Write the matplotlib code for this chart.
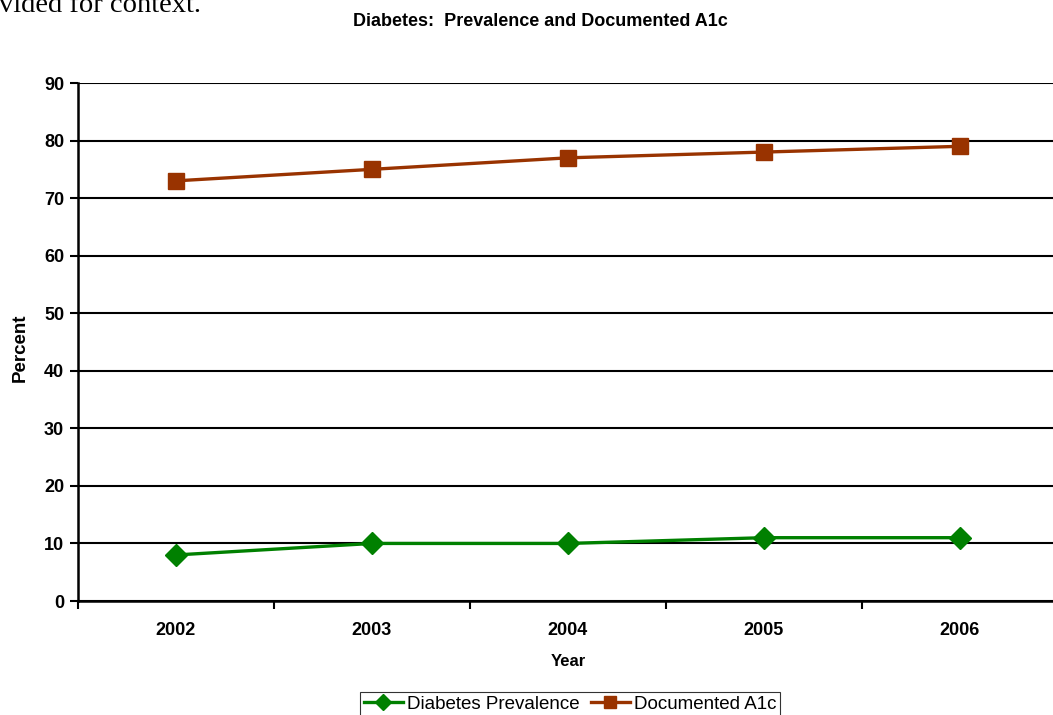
import numpy as np
import matplotlib
matplotlib.use("Agg")
import matplotlib.pyplot as plt
from matplotlib.ticker import FixedLocator

years = ["2002", "2003", "2004", "2005", "2006"]
prevalence = [8, 10, 10, 11, 11]
a1c = [73, 75, 77, 78, 79]

plt.rcParams["font.family"] = ["Liberation Sans", "DejaVu Sans"]

fig = plt.figure(figsize=(10.53, 7.15), dpi=100)
ax = fig.add_axes([78 / 1053, 114 / 715, 980 / 1053, 518 / 715])

x = np.arange(len(years))
ax.plot(x, prevalence, color="#008000", lw=2.4, marker="D", ms=11,
        label="Diabetes Prevalence", zorder=3)
ax.plot(x, a1c, color="#993300", lw=2.4, marker="s", ms=11.5,
        label="Documented A1c", zorder=3)

ax.set_xlim(-0.5, len(years) - 0.5)
ax.set_ylim(0, 90)
ax.set_yticks(np.arange(0, 91, 10))
ax.yaxis.grid(True, color="black", lw=1.5)
ax.set_axisbelow(True)

# category boundaries get tick marks, centres get the labels
ax.xaxis.set_major_locator(FixedLocator(np.arange(-0.5, len(years), 1.0)))
ax.set_xticklabels([])
ax.set_xticks(x, minor=True)
ax.set_xticklabels(years, minor=True, fontsize=13, fontweight="bold")
ax.tick_params(axis="x", which="major", length=6, width=1.5, direction="out")
ax.tick_params(axis="x", which="minor", length=0, pad=15)
ax.tick_params(axis="y", length=6, width=1.5, direction="out", pad=4,
               labelsize=13)
for t in ax.get_yticklabels():
    t.set_fontweight("bold")

for s in ["top", "right"]:
    ax.spines[s].set_visible(False)
for s in ["left", "bottom"]:
    ax.spines[s].set_linewidth(1.8)
    ax.spines[s].set_color("black")

ax.set_ylabel("Percent", fontsize=13.5, fontweight="bold", labelpad=9)
ax.yaxis.set_label_coords(-58 / 980, (601 - 348) / 518)
ax.set_xlabel("Year", fontsize=12, fontweight="bold")
ax.xaxis.set_label_coords(490 / 980, -(661 - 601) / 518)
ax.xaxis.label.set_va("center")
ax.yaxis.label.set_va("center")

fig.text(540 / 1053, 1 - 22 / 715, "Diabetes:  Prevalence and Documented A1c",
         ha="center", va="center", fontsize=13, fontweight="bold")
fig.text(-1 / 1053, 1 - 12 / 715, "vided for context.", ha="left",
         va="baseline", fontsize=20.5, family="Liberation Serif")

leg = fig.legend(loc="center", bbox_to_anchor=(570 / 1053, 1 - 704 / 715),
                 ncol=2, fontsize=13.5, frameon=True, fancybox=False,
                 edgecolor="black", handlelength=2.1, handletextpad=0.2,
                 columnspacing=0.6, borderpad=0.2, markerscale=0.72)
leg.get_frame().set_linewidth(0.8)

fig.savefig("out.png", dpi=100)
